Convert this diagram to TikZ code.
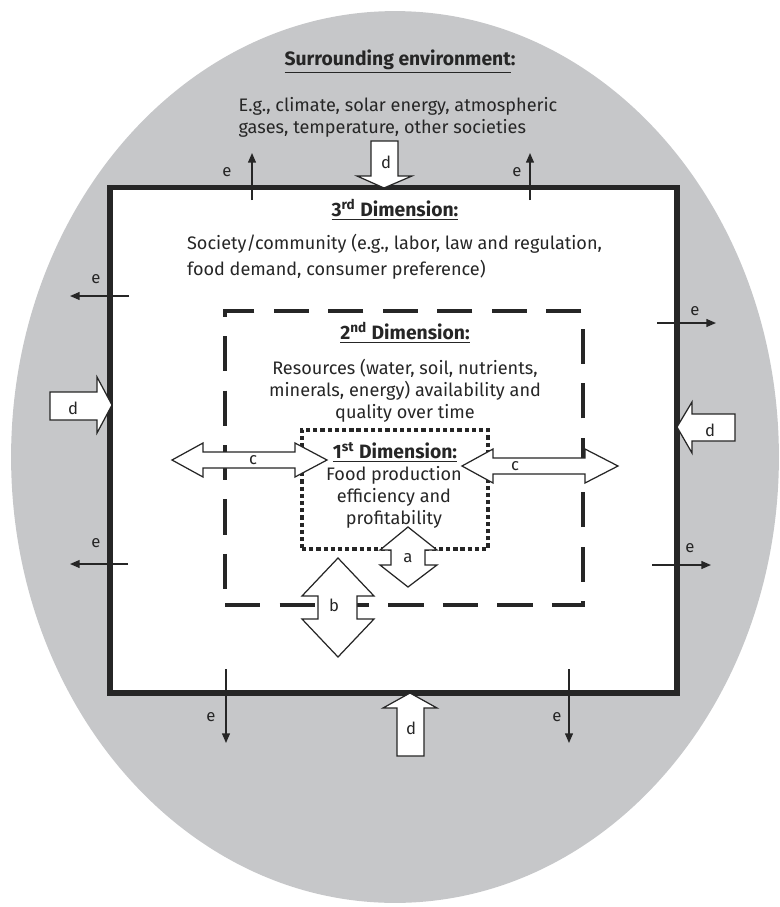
\documentclass[tikz,border=0pt]{standalone}
\usepackage{fontspec}
\setmainfont{Fira Sans}
\usepackage{xcolor}
\definecolor{envcolor}{HTML}{C6C7C9}
\definecolor{inkcolor}{HTML}{262626}
\usetikzlibrary{positioning,arrows.meta,shapes.geometric}
\tikzset{
    envshape/.style={
        ellipse,
        fill=envcolor,
        minimum width=15.36cm,
        minimum height=17.84cm,
        inner sep=0pt,
    },
    outerbox/.style={
        rectangle,
        draw=inkcolor,
        fill=white,
        line width=3pt,
        inner sep=0pt,
    },
    resbox/.style={
        rectangle,
        draw=inkcolor,
        line width=2.8pt,
        dash pattern=on 20pt off 11pt,
        inner sep=0pt,
    },
    corebox/.style={
        rectangle,
        draw=inkcolor,
        line width=2.4pt,
        dash pattern=on 2.4pt off 1.7pt,
        inner sep=0pt,
    },
    title/.style={
        text=inkcolor,
        font=\fontsize{11}{13}\selectfont\bfseries,
        inner sep=1pt,
    },
    body/.style={
        text=inkcolor,
        font=\fontsize{10.3}{12.5}\selectfont,
        inner sep=1pt,
    },
    tag/.style={
        text=inkcolor,
        font=\fontsize{9.5}{11}\selectfont,
        inner sep=0pt,
    },
    flow/.style={
        -{Triangle[length=5.5pt,width=4.5pt]},
        line width=0.8pt,
        inkcolor,
    },
    blockarrow/.style={
        draw=inkcolor,
        fill=white,
        line width=0.7pt,
        line join=miter,
    },
}
\begin{document}
\begin{tikzpicture}[x=0.02cm,y=-0.02cm]
    \useasboundingbox (0,0) rectangle (780,907);

    % surrounding environment
    \node[envshape] (env) at (395,457) {};
    \node[title] (envtitle) at (400,62) {\underline{Surrounding environment}:};
    \node[body, align=left] (envtext) at (398,117) {E.g., climate, solar energy, atmospheric\\gases, temperature, other societies};

    % the three dimensions
    \node[outerbox, minimum width=11.34cm, minimum height=10.11cm] (dimthree) at (393.5,440.25) {};
    \node[resbox, minimum width=7.16cm, minimum height=5.88cm] (dimtwo) at (404,458) {};
    \node[corebox, minimum width=3.72cm, minimum height=2.38cm] (dimone) at (395,489.5) {};

    \node[title] (dimthreetitle) at (395,210) {\underline{3\textsuperscript{rd} Dimension:}};
    \node[body, font=\fontsize{10.3}{14.5}\selectfont, align=left, anchor=west] (dimthreetext) at (185,257) {Society/community (e.g., labor, law and regulation,\\food demand, consumer preference)};

    \node[title] (dimtwotitle) at (405,333) {\underline{2\textsuperscript{nd} Dimension:}};
    \node[body, align=center] (dimtwotext) at (405,391) {Resources (water, soil, nutrients,\\minerals, energy) availability and\\quality over time};

    \node[title] (dimonetitle) at (395,452) {\underline{1\textsuperscript{st} Dimension:}};
    \node[body, align=center] (dimonetext) at (394,497) {Food production\\efficiency and\\profitability};

    % e: outflows
    \foreach \n/\ax/\ay/\bx/\by/\lx/\ly in {tl/252/200/252/153/227/172,
                                           tr/530/200/530/153/517/172,
                                           lu/129/296/70/296/96/279,
                                           ll/128/564/70/564/96/543,
                                           ru/657/323/716/323/695/311,
                                           rl/652/565/711/565/690/548,
                                           bl/226/669/226/743/211/717,
                                           br/569/669/569/743/557/717} {
        \coordinate (e\n from) at (\ax,\ay);
        \coordinate (e\n to) at (\bx,\by);
        \draw[flow] (e\n from) -- (e\n to);
        \node[tag] (e\n label) at (\lx,\ly) {e};
    }

    % d: inflows
    \draw[blockarrow] (371,141) -- (398,141) -- (398,176) -- (412,176) -- (384,188) -- (357,176) -- (371,176) -- cycle;
    \node[tag] (dtop) at (386,162) {d};
    \draw[blockarrow] (397,756) -- (424,756) -- (424,708) -- (437,708) -- (410,693) -- (383,708) -- (397,708) -- cycle;
    \node[tag] (dbottom) at (411,728) {d};
    \draw[blockarrow] (50,392) -- (97,392) -- (97,377) -- (112,405) -- (97,433) -- (97,420) -- (50,420) -- cycle;
    \node[tag] (dleft) at (73,408) {d};
    \draw[blockarrow] (735,414) -- (692,414) -- (692,402) -- (677,427) -- (692,453) -- (692,441) -- (735,441) -- cycle;
    \node[tag] (dright) at (710,430) {d};

    % c, a, b: exchanges between dimensions
    \draw[blockarrow] (172,460) -- (203,443) -- (203,452) -- (295,452) -- (295,443) -- (327,460) -- (295,477) -- (295,468) -- (203,468) -- (203,477) -- cycle;
    \node[tag] (cleft) at (253,460) {c};
    \draw[blockarrow] (462,466) -- (493,449) -- (493,458) -- (585,458) -- (585,449) -- (618,466) -- (585,483) -- (585,474) -- (493,474) -- (493,483) -- cycle;
    \node[tag] (cright) at (515,466) {c};
    \draw[blockarrow] (408,527) -- (437,550) -- (425,550) -- (425,565) -- (437,565) -- (408,587) -- (380,565) -- (391,565) -- (391,550) -- (380,550) -- cycle;
    \node[tag] (aarrow) at (408,558) {a};
    \draw[blockarrow] (338,558) -- (374,596) -- (357,596) -- (357,619) -- (374,619) -- (338,657) -- (302,619) -- (318,619) -- (318,596) -- (302,596) -- cycle;
    \node[tag] (barrow) at (334,605) {b};
\end{tikzpicture}
\end{document}
